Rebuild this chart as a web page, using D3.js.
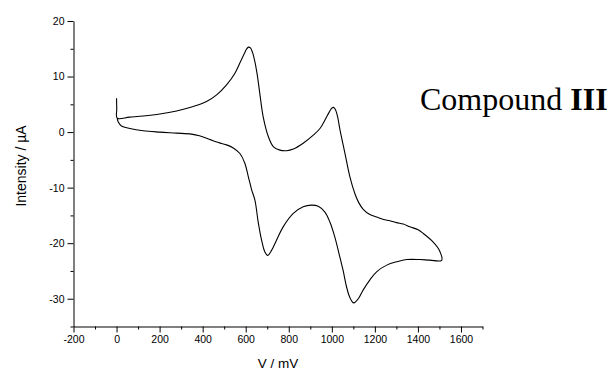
<!DOCTYPE html>
<html>
<head>
<meta charset="utf-8">
<script src="https://cdn.jsdelivr.net/npm/d3@7"></script>
<style>
  body { margin: 0; background: #fff; }
  svg { display: block; }
  .tick text { font-family: "Liberation Sans", Arial, sans-serif; font-size: 10.5px; fill: #000; }
  .axis-label { font-family: "Liberation Sans", Arial, sans-serif; fill: #000; }
</style>
</head>
<body>
<svg width="609" height="371"></svg>
<script>
// Potential (mV) / current (µA) pairs, in scan order
const startSeg = [[0, 6.1], [1, 4.2], [3, 2.5]];

const forwardScan = [
  [60, 2.7], [124, 2.9], [201, 3.25], [279, 3.8], [356, 4.6], [418, 5.5],
  [465, 6.7], [511, 8.5], [550, 10.6], [575, 12.6], [592, 14.0], [604, 14.95],
  [613, 15.3], [622, 15.15], [632, 14.3], [643, 12.6], [654, 10.2], [666, 6.8],
  [681, 2.8], [705, -0.8], [728, -2.6], [759, -3.25], [790, -3.35], [821, -3.05],
  [867, -2.0], [914, -0.55], [945, 0.65], [970, 2.3], [988, 3.6], [1000, 4.3],
  [1008, 4.45], [1016, 4.1], [1026, 2.9], [1038, 0.4], [1061, -3.84],
  [1084, -8.05], [1107, -11.05], [1125, -12.7], [1146, -13.9], [1175, -14.8],
  [1208, -15.3], [1240, -15.75], [1270, -15.95], [1301, -16.3], [1332, -16.55],
  [1363, -17.05], [1401, -17.6], [1425, -18.25], [1471, -19.8], [1500, -21.3],
  [1510, -23.1]
];

const reverseScan = [
  [1456, -23.05], [1409, -22.95], [1348, -22.95], [1301, -23.35], [1255, -23.95],
  [1208, -25.15], [1177, -26.6], [1146, -28.4], [1123, -30.0], [1102, -30.75],
  [1084, -29.8], [1068, -27.8], [1053, -25.0], [1038, -22.6], [1014, -18.9],
  [991, -16.2], [968, -14.4], [937, -13.35], [906, -13.15], [867, -13.45],
  [821, -14.65], [774, -17.06], [743, -19.46], [720, -21.3], [702, -22.2],
  [689, -21.6], [674, -19.5], [658, -16.2], [643, -12.3], [627, -10.3],
  [612, -8.0], [596, -5.6], [573, -3.85], [542, -2.85], [511, -2.3],
  [488, -2.05], [462, -1.75], [438, -1.4], [412, -1.0], [385, -0.65],
  [348, -0.36], [279, -0.18], [201, 0], [124, 0.24], [62, 0.66], [23, 1.1],
  [8, 1.8], [3, 2.5]
];

const xMajorTicks = [-200, 0, 200, 400, 600, 800, 1000, 1200, 1400, 1600];
const xMinorTicks = [-100, 100, 300, 500, 700, 900, 1100, 1300, 1500, 1700];
const yMajorTicks = [-30, -20, -10, 0, 10, 20];
const yMinorTicks = [-35, -25, -15, -5, 5, 15];

const svg = d3.select("svg");

const x = d3.scaleLinear().domain([-200, 1700]).range([73.5, 482.5]);
const y = d3.scaleLinear().domain([-35, 20]).range([326.5, 21]);

const fmt = d => d < 0 ? "-" + Math.abs(d) : String(d);

// minor ticks
svg.append("g")
  .attr("transform", `translate(0,${y(-35)})`)
  .call(d3.axisBottom(x).tickValues(xMinorTicks).tickSize(3).tickFormat(""))
  .call(g => g.select(".domain").remove());

svg.append("g")
  .attr("transform", `translate(${x(-200)},0)`)
  .call(d3.axisLeft(y).tickValues(yMinorTicks).tickSize(3).tickFormat(""))
  .call(g => g.select(".domain").remove());

// X-axis
svg.append("g")
  .attr("transform", `translate(0,${y(-35)})`)
  .call(d3.axisBottom(x).tickValues(xMajorTicks).tickSize(6).tickSizeOuter(0).tickFormat(fmt));

// Y-axis
svg.append("g")
  .attr("transform", `translate(${x(-200)},0)`)
  .call(d3.axisLeft(y).tickValues(yMajorTicks).tickSize(6).tickSizeOuter(0).tickFormat(fmt));

svg.selectAll(".domain, .tick line").attr("stroke", "#000");

// X-axis label
svg.append("text")
  .attr("class", "axis-label")
  .attr("x", 278)
  .attr("y", 368)
  .attr("text-anchor", "middle")
  .style("font-size", "13.5px")
  .text("V / mV");

// Y-axis label
svg.append("text")
  .attr("class", "axis-label")
  .attr("transform", "rotate(-90)")
  .attr("x", -166)
  .attr("y", 25.5)
  .attr("text-anchor", "middle")
  .style("font-size", "14px")
  .text("Intensity / µA");

// CV trace
const line = d3.line()
  .x(d => x(d[0]))
  .y(d => y(d[1]))
  .curve(d3.curveCatmullRom.alpha(0.5));

svg.append("path")
  .datum(startSeg.concat(forwardScan, reverseScan))
  .attr("fill", "none")
  .attr("stroke", "#000")
  .attr("stroke-width", 1.1)
  .attr("d", line);

// annotation
const note = svg.append("text")
  .attr("x", 420)
  .attr("y", 110)
  .style("font-family", "'Liberation Serif', 'Times New Roman', serif")
  .style("font-size", "32px")
  .attr("fill", "#000");
note.append("tspan").text("Compound ");
note.append("tspan").style("font-weight", "bold").text("III");
</script>
</body>
</html>
